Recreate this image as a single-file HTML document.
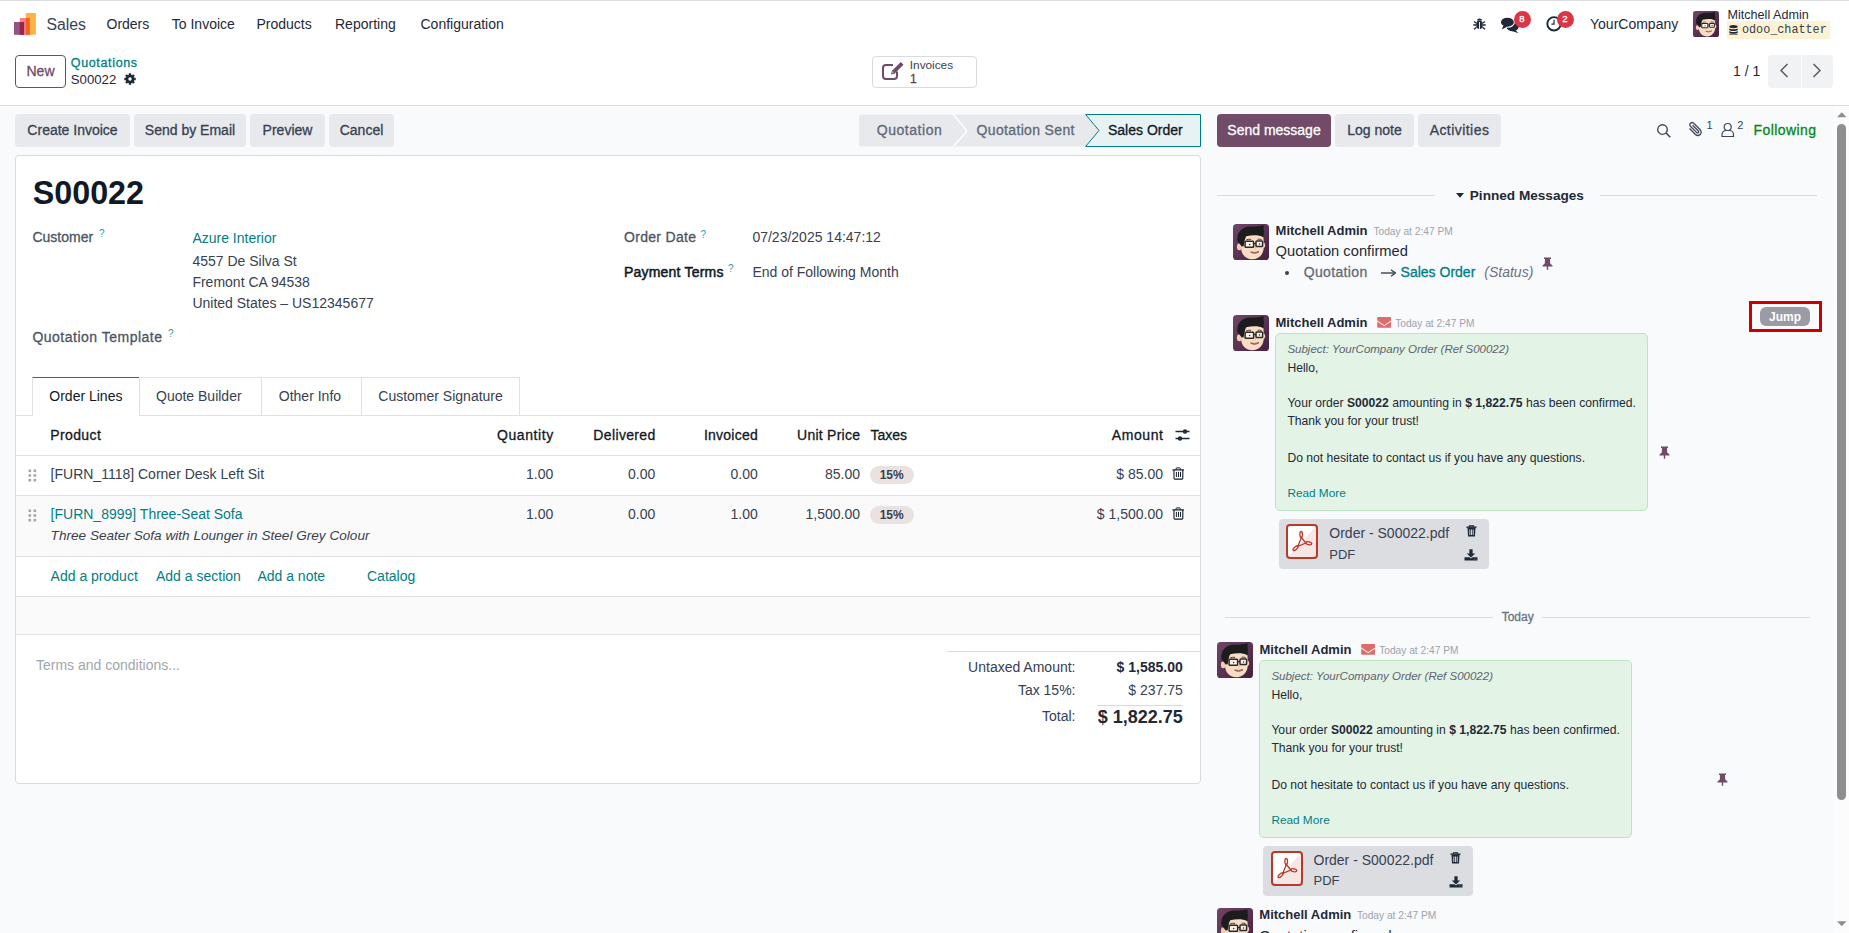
<!DOCTYPE html><html><head><meta charset="utf-8"><style>
*{box-sizing:border-box;margin:0;padding:0}
html,body{width:1849px;height:933px;overflow:hidden;background:#fff}
body{position:relative;font-family:"Liberation Sans",sans-serif;color:#374151;font-size:14px}
.t{position:absolute;line-height:1;white-space:nowrap}
.r{position:absolute;display:block}
.b{font-weight:bold}
.i{font-style:italic}
.teal{color:#017e84}
.dk{color:#111827}
.m{-webkit-text-stroke:0.3px currentColor}
.mono{font-family:"Liberation Mono",monospace}
</style></head><body><div class="r" style="left:0px;top:0px;width:1849px;height:1px;background:#dcdde0"></div>
<svg class="r" style="left:0px;top:0px;" width="40" height="40" viewBox="0 0 40 40">
<rect x="25.75" y="13" width="10.15" height="21.8" rx="1" fill="#f9b444"/>
<rect x="19.8" y="18" width="10" height="16.8" fill="#ff8282"/>
<rect x="25.75" y="18" width="4.05" height="16.8" fill="#f65f26"/>
<rect x="14" y="22" width="10.1" height="12.8" fill="#985184"/>
<rect x="19.8" y="22" width="4.3" height="12.8" fill="#972748"/>
</svg>
<div class="t " style="left:46.5px;top:16.62px;font-size:15.8px;color:#374151">Sales</div>
<div class="t " style="left:106.5px;top:17.15px;font-size:14px;color:#1f2937">Orders</div>
<div class="t " style="left:171.8px;top:17.15px;font-size:14px;color:#1f2937">To Invoice</div>
<div class="t " style="left:256.5px;top:17.15px;font-size:14px;color:#1f2937">Products</div>
<div class="t " style="left:335px;top:17.15px;font-size:14px;color:#1f2937">Reporting</div>
<div class="t " style="left:420.5px;top:17.15px;font-size:14px;color:#1f2937">Configuration</div>
<svg class="r" style="left:1473px;top:17px;" width="13" height="13" viewBox="0 0 13 13"><g fill="#1f2937"><ellipse cx="6.5" cy="7.8" rx="3.3" ry="4.3"/><path d="M4 3.6a2.5 2 0 0 1 5 0z"/>
<path d="M1 4.5l2.5 1.8M12 4.5l-2.5 1.8M0.3 8h3M12.7 8h-3M1 12.3l2.5-2M12 12.3l-2.5-2" stroke="#1f2937" stroke-width="1.4"/></g>
<path d="M6.5 5v7" stroke="#fff" stroke-width="0.9"/></svg>
<svg class="r" style="left:1500px;top:16px;" width="20" height="18" viewBox="0 0 20 18"><g fill="#1f2937"><ellipse cx="12.6" cy="11" rx="6" ry="4.3"/><path d="M15 13.8L18.6 17.2 12 15z"/>
</g>
<ellipse cx="7.4" cy="6.2" rx="7" ry="5.1" fill="#1f2937" stroke="#fff" stroke-width="1.1"/><path d="M3.4 9.4L1.8 13.6 7.5 10.6z" fill="#1f2937"/></svg>
<div class="r" style="left:1513.5px;top:10.5px;width:17px;height:17px;background:#dc3545;border-radius:50%"></div>
<div class="t m" style="left:1222px;width:600px;text-align:center;top:14.46px;font-size:9.5px;color:#fff">8</div>
<svg class="r" style="left:1545px;top:15px;" width="18" height="18" viewBox="0 0 18 18"><circle cx="9" cy="8.8" r="6.7" fill="none" stroke="#1f2937" stroke-width="1.9"/><path d="M9 4.8V9.2H6.4" fill="none" stroke="#1f2937" stroke-width="1.2"/></svg>
<div class="r" style="left:1556.5px;top:10.5px;width:17px;height:17px;background:#dc3545;border-radius:50%"></div>
<div class="t m" style="left:1265px;width:600px;text-align:center;top:14.46px;font-size:9.5px;color:#fff">2</div>
<div class="t " style="left:1590px;top:17.15px;font-size:14px;color:#1f2937">YourCompany</div>
<svg class="r" style="left:1693px;top:11px;" width="26" height="26" viewBox="0 0 36 36"><defs><linearGradient id="avg" x1="0" y1="0" x2="1" y2="1"><stop offset="0" stop-color="#6f4568"/><stop offset="1" stop-color="#46203e"/></linearGradient></defs><rect width="36" height="36" rx="3.6" fill="url(#avg)"/>
<ellipse cx="6.3" cy="22.8" rx="2.4" ry="3.5" fill="#f2cdb0"/>
<ellipse cx="30.6" cy="21.2" rx="1.6" ry="2.6" fill="#f2cdb0"/>
<path d="M8 13.5C8 11.5 11 10.8 19 10.8S30.5 11.6 30.5 14L30.8 23C30.8 30 26 35.3 19.5 35.3S8.5 30.5 8.2 25z" fill="#f8dcc3"/>
<path d="M4.3 17C3.5 8 9.5 2.3 18.5 2.6 23 2.8 26.5 2.3 30.6 1.3 30.9 3 30.2 4.5 30.8 6.2 31.3 9 30.6 11 30.1 13.2 27 11 20 10.6 13.2 12.2L12.2 14.6C11.6 17 11.1 19.6 10.6 22.2L8.6 22.6C7.5 20.2 5.6 19 4.3 17z" fill="#1c1c1f"/>
<path d="M13.2 15.9Q15.6 14.9 18.1 15.4M24.6 15.3Q26.6 14.8 28.6 15.6" fill="none" stroke="#3b2b2b" stroke-width="0.9"/>
<rect x="12.1" y="17.3" width="8.5" height="6" rx="0.8" fill="#fcf3ea" stroke="#2a2a2a" stroke-width="1.5"/>
<rect x="23" y="17.1" width="6.6" height="5.4" rx="0.8" fill="#fcf3ea" stroke="#2a2a2a" stroke-width="1.5"/>
<path d="M20.6 19.6H23" stroke="#2a2a2a" stroke-width="1.2"/>
<circle cx="16.6" cy="20.4" r="0.75" fill="#3a2a2a"/><circle cx="26.5" cy="19.9" r="0.75" fill="#3a2a2a"/>
<path d="M22.2 22.8Q22.9 25 21.7 25.6" fill="none" stroke="#deb096" stroke-width="0.8"/>
<path d="M17.6 28Q21.6 30.9 26 27.6Q21.6 29.1 17.6 28z" fill="#fff" stroke="#7a3d35" stroke-width="0.8"/></svg>
<div class="t " style="left:1727.5px;top:8.83px;font-size:12.6px;color:#1f2937">Mitchell Admin</div>
<div class="r" style="left:1727px;top:21px;width:103px;height:18px;background:#fdf2d3"></div>
<svg class="r" style="left:1729px;top:25px;" width="9" height="10" viewBox="0 0 9 10"><g fill="#1f2937"><ellipse cx="4.5" cy="1.6" rx="4.2" ry="1.6"/><path d="M0.3 3.2c1 1.3 7.4 1.3 8.4 0v1.8c-1 1.3-7.4 1.3-8.4 0z"/><path d="M0.3 6c1 1.3 7.4 1.3 8.4 0v1.8c-1 1.3-7.4 1.3-8.4 0z"/><path d="M0.3 8.6c1 1.3 7.4 1.3 8.4 0v0.6c-1 1.3-7.4 1.3-8.4 0z"/></g></svg>
<div class="t mono" style="left:1741.5px;top:22.99px;font-size:13px;color:#374151;transform:scaleX(0.905);transform-origin:0 0">odoo_chatter</div>
<div class="r" style="left:15px;top:55px;width:51px;height:33px;border:1px solid #714b67;border-radius:4px;background:#fff"></div>
<div class="t m" style="left:-259.5px;width:600px;text-align:center;top:64.15px;font-size:14px;color:#714b67">New</div>
<div class="t m" style="left:70.8px;top:57.22px;font-size:12.5px;color:#017e84;letter-spacing:.65px">Quotations</div>
<div class="t " style="left:70.8px;top:72.62px;font-size:13.2px;color:#1f2937">S00022</div>
<svg class="r" style="left:124px;top:73px;" width="12" height="12" viewBox="0 0 12 12"><g fill="#1f2937"><circle cx="6" cy="6" r="4.3"/>
<g stroke="#1f2937" stroke-width="2.4"><path d="M6 0.3v11.4M0.3 6h11.4M2 2l8 8M10 2l-8 8"/></g></g><circle cx="6" cy="6" r="1.7" fill="#fff"/></svg>
<div class="r" style="left:872px;top:55.5px;width:104.5px;height:32px;border:1px solid #d8dadd;border-radius:4px;background:#fff"></div>
<svg class="r" style="left:882px;top:61px;" width="23" height="19" viewBox="0 0 23 19"><path d="M15 10.5v4.5a3 3 0 0 1-3 3H4a3 3 0 0 1-3-3V7a3 3 0 0 1 3-3h7" fill="none" stroke="#714b67" stroke-width="2"/>
<path d="M9 13.5l0.8-3.5 9-9 2.7 2.7-9 9z" fill="#714b67"/><path d="M10.5 12.2l-0.3-1.6 1.6 0.3z" fill="#fff"/></svg>
<div class="t " style="left:909.8px;top:59.81px;font-size:11.8px;color:#374151">Invoices</div>
<div class="t m" style="left:910px;top:72.54px;font-size:12px;color:#5d3d56">1</div>
<div class="t " style="left:1733px;top:63.85px;font-size:14px;color:#1f2937">1 / 1</div>
<div class="r" style="left:1768px;top:55px;width:32.5px;height:33px;background:#f1f2f4;border-radius:4px 0 0 4px"></div>
<div class="r" style="left:1801.5px;top:55px;width:31.5px;height:33px;background:#f1f2f4;border-radius:0 4px 4px 0"></div>
<svg class="r" style="left:1779px;top:63px;" width="10" height="15" viewBox="0 0 10 15"><path d="M8.5 1L2 7.5 8.5 14" fill="none" stroke="#555" stroke-width="1.4"/></svg>
<svg class="r" style="left:1812px;top:63px;" width="10" height="15" viewBox="0 0 10 15"><path d="M1.5 1L8 7.5 1.5 14" fill="none" stroke="#555" stroke-width="1.4"/></svg>
<div class="r" style="left:0px;top:105px;width:1849px;height:1px;background:#d8dadd"></div>
<div class="r" style="left:0px;top:106px;width:1849px;height:827px;background:#f9fafb"></div>
<div class="r" style="left:1834px;top:106px;width:15px;height:827px;background:#fcfcfd"></div>
<div class="r" style="left:15px;top:114px;width:115px;height:33px;background:#e7e9ed;border-radius:4px"></div>
<div class="t m" style="left:-227.5px;width:600px;text-align:center;top:123.15px;font-size:14px;color:#374151">Create Invoice</div>
<div class="r" style="left:134px;top:114px;width:112px;height:33px;background:#e7e9ed;border-radius:4px"></div>
<div class="t m" style="left:-110.0px;width:600px;text-align:center;top:123.15px;font-size:14px;color:#374151">Send by Email</div>
<div class="r" style="left:250px;top:114px;width:75px;height:33px;background:#e7e9ed;border-radius:4px"></div>
<div class="t m" style="left:-12.5px;width:600px;text-align:center;top:123.15px;font-size:14px;color:#374151">Preview</div>
<div class="r" style="left:329px;top:114px;width:65px;height:33px;background:#e7e9ed;border-radius:4px"></div>
<div class="t m" style="left:61.5px;width:600px;text-align:center;top:123.15px;font-size:14px;color:#374151">Cancel</div>
<svg class="r" style="left:850px;top:110px;" width="360" height="40" viewBox="0 0 360 40">
<path d="M12 4.5H103L117 21 103 36.5H12A3 3 0 0 1 9 33.5V7.5A3 3 0 0 1 12 4.5z" fill="#e7e9ed"/>
<path d="M103 4.5H235.6L249 21 235.6 36.5H103L117 21z" fill="#e7e9ed"/>
<path d="M103 4L117 21 103 37" fill="none" stroke="#fff" stroke-width="1.2"/>
<path d="M235.6 4.5H350.5V36.5H235.6L249 20.5z" fill="#e6f2f3" stroke="#017e84" stroke-width="1"/>
</svg>
<div class="t m" style="left:876.7px;top:123.15px;font-size:14px;color:#5f6877;letter-spacing:.55px">Quotation</div>
<div class="t m" style="left:976.5px;top:123.15px;font-size:14px;color:#5f6877;letter-spacing:.35px">Quotation Sent</div>
<div class="t m" style="left:1108px;top:123.15px;font-size:14px;color:#111827">Sales Order</div>
<div class="r" style="left:15px;top:155px;width:1186px;height:629px;background:#fff;border:1px solid #d8dadd;border-radius:4px"></div>
<div class="t " style="left:32.7px;top:176.65px;font-size:32.3px;color:#111827;font-weight:bold">S00022</div>
<div class="t m" style="left:32.4px;top:229.95px;font-size:14px;color:#4b5563">Customer</div>
<div class="t " style="left:99px;top:229.03px;font-size:10px;color:#2f98a8">?</div>
<div class="t " style="left:192.4px;top:230.55px;font-size:14px;color:#017e84">Azure Interior</div>
<div class="t " style="left:192.4px;top:253.95px;font-size:14px;">4557 De Silva St</div>
<div class="t " style="left:192.4px;top:274.75px;font-size:14px;">Fremont CA 94538</div>
<div class="t " style="left:192.4px;top:295.75px;font-size:14px;">United States – US12345677</div>
<div class="t m" style="left:32.4px;top:329.85px;font-size:14px;color:#4b5563;letter-spacing:.5px">Quotation Template</div>
<div class="t " style="left:168.1px;top:329.03px;font-size:10px;color:#2f98a8">?</div>
<div class="t m" style="left:624px;top:230.35px;font-size:14px;color:#4b5563;letter-spacing:.3px">Order Date</div>
<div class="t " style="left:700.6px;top:229.53px;font-size:10px;color:#2f98a8">?</div>
<div class="t " style="left:752.4px;top:230.35px;font-size:14px;">07/23/2025 14:47:12</div>
<div class="t " style="left:624px;top:264.65px;font-size:14px;color:#111827;letter-spacing:.2px;-webkit-text-stroke:.5px #111827">Payment Terms</div>
<div class="t " style="left:728px;top:263.53px;font-size:10px;color:#2f98a8">?</div>
<div class="t " style="left:752.4px;top:264.65px;font-size:14px;">End of Following Month</div>
<div class="r" style="left:16px;top:414.5px;width:1184px;height:1px;background:#dee2e6"></div>
<div class="r" style="left:32.4px;top:377px;width:107.5px;height:39px;background:#fff;border:1px solid #dee2e6;border-top:1px solid #714b67;border-bottom:none"></div>
<div class="r" style="left:139.3px;top:377px;width:123.2px;height:38px;border:1px solid #dee2e6;border-left:none;border-bottom:none"></div>
<div class="r" style="left:262.5px;top:377px;width:99px;height:38px;border:1px solid #dee2e6;border-left:none;border-bottom:none"></div>
<div class="r" style="left:361.5px;top:377px;width:158.8px;height:38px;border:1px solid #dee2e6;border-left:none;border-bottom:none"></div>
<div class="t " style="left:49.3px;top:389.15px;font-size:14px;color:#111827">Order Lines</div>
<div class="t " style="left:156px;top:389.15px;font-size:14px;">Quote Builder</div>
<div class="t " style="left:278.8px;top:389.15px;font-size:14px;">Other Info</div>
<div class="t " style="left:378.3px;top:389.15px;font-size:14px;">Customer Signature</div>
<div class="t m" style="left:50.2px;top:428.15px;font-size:14px;color:#111827;letter-spacing:.4px">Product</div>
<div class="t m" style="right:1295.1px;top:428.15px;font-size:14px;color:#111827;letter-spacing:0.6px">Quantity</div>
<div class="t m" style="right:1193.35px;top:428.15px;font-size:14px;color:#111827;letter-spacing:0.35px">Delivered</div>
<div class="t m" style="right:1090.95px;top:428.15px;font-size:14px;color:#111827;letter-spacing:0.25px">Invoiced</div>
<div class="t m" style="right:988.75px;top:428.15px;font-size:14px;color:#111827;letter-spacing:0.25px">Unit Price</div>
<div class="t m" style="right:685.4000000000001px;top:428.15px;font-size:14px;color:#111827;letter-spacing:0.6px">Amount</div>
<div class="t m" style="left:870.5px;top:428.15px;font-size:14px;color:#111827">Taxes</div>
<svg class="r" style="left:1175px;top:428px;" width="15" height="14" viewBox="0 0 15 14"><g stroke="#1f2937" stroke-width="1.3"><path d="M0.5 3.5H14.5M0.5 10.5H14.5"/></g><circle cx="10" cy="3.5" r="2.2" fill="#1f2937"/><circle cx="5" cy="10.5" r="2.2" fill="#1f2937"/></svg>
<div class="r" style="left:16px;top:455px;width:1184px;height:1px;background:#dee2e6"></div>
<div class="r" style="left:16px;top:495px;width:1184px;height:1px;background:#dee2e6"></div>
<div class="r" style="left:16px;top:496px;width:1184px;height:60px;background:#fafafa"></div>
<div class="r" style="left:16px;top:556px;width:1184px;height:1px;background:#dee2e6"></div>
<div class="r" style="left:16px;top:596px;width:1184px;height:1px;background:#dee2e6"></div>
<div class="r" style="left:16px;top:597px;width:1184px;height:37px;background:#fafafa"></div>
<div class="r" style="left:16px;top:634px;width:1184px;height:1px;background:#dee2e6"></div>
<svg class="r" style="left:28px;top:469px;" width="9" height="13" viewBox="0 0 9 13"><rect x="0.5" y="0.5" width="2.6" height="2.6" fill="#a3a6ad"/><rect x="0.5" y="5.2" width="2.6" height="2.6" fill="#a3a6ad"/><rect x="0.5" y="9.9" width="2.6" height="2.6" fill="#a3a6ad"/><rect x="5.5" y="0.5" width="2.6" height="2.6" fill="#a3a6ad"/><rect x="5.5" y="5.2" width="2.6" height="2.6" fill="#a3a6ad"/><rect x="5.5" y="9.9" width="2.6" height="2.6" fill="#a3a6ad"/></svg>
<div class="t " style="left:50.6px;top:467.15px;font-size:14px;">[FURN_1118] Corner Desk Left Sit</div>
<div class="t " style="right:1295.7px;top:467.15px;font-size:14px;">1.00</div>
<div class="t " style="right:1193.7px;top:467.15px;font-size:14px;">0.00</div>
<div class="t " style="right:1091.2px;top:467.15px;font-size:14px;">0.00</div>
<div class="t " style="right:989px;top:467.15px;font-size:14px;">85.00</div>
<div class="t " style="right:686px;top:467.15px;font-size:14px;">$ 85.00</div>
<div class="r" style="left:870px;top:466px;width:43.5px;height:17.5px;background:#e9e2e1;border-radius:9px"></div>
<div class="t " style="left:591.7px;width:600px;text-align:center;top:468.84px;font-size:12px;color:#374151;font-weight:bold">15%</div>
<svg class="r" style="left:1172px;top:467px;" width="13" height="13" viewBox="0 0 13 13"><g fill="none" stroke="#111827"><path d="M0.4 2.9H12" stroke-width="1.2"/><path d="M4.1 2.9V1.6Q4.1 0.9 4.8 0.9H7.6Q8.3 0.9 8.3 1.6V2.9" stroke-width="1"/><path d="M2 2.9V11.2Q2 12.1 2.9 12.1H9.9Q10.8 12.1 10.8 11.2V2.9" stroke-width="1.1"/><path d="M4.4 4.9V10M6.5 4.9V10M8.5 4.9V10" stroke-width="0.95"/></g></svg>
<svg class="r" style="left:28px;top:509px;" width="9" height="13" viewBox="0 0 9 13"><rect x="0.5" y="0.5" width="2.6" height="2.6" fill="#a3a6ad"/><rect x="0.5" y="5.2" width="2.6" height="2.6" fill="#a3a6ad"/><rect x="0.5" y="9.9" width="2.6" height="2.6" fill="#a3a6ad"/><rect x="5.5" y="0.5" width="2.6" height="2.6" fill="#a3a6ad"/><rect x="5.5" y="5.2" width="2.6" height="2.6" fill="#a3a6ad"/><rect x="5.5" y="9.9" width="2.6" height="2.6" fill="#a3a6ad"/></svg>
<div class="t " style="left:50.6px;top:507.15px;font-size:14px;color:#017e84">[FURN_8999] Three-Seat Sofa</div>
<div class="t i" style="left:50.6px;top:529.08px;font-size:13.6px;color:#374151">Three Seater Sofa with Lounger in Steel Grey Colour</div>
<div class="t " style="right:1295.7px;top:507.15px;font-size:14px;">1.00</div>
<div class="t " style="right:1193.7px;top:507.15px;font-size:14px;">0.00</div>
<div class="t " style="right:1091.2px;top:507.15px;font-size:14px;">1.00</div>
<div class="t " style="right:989px;top:507.15px;font-size:14px;">1,500.00</div>
<div class="t " style="right:686px;top:507.15px;font-size:14px;">$ 1,500.00</div>
<div class="r" style="left:870px;top:506px;width:43.5px;height:17.5px;background:#e9e2e1;border-radius:9px"></div>
<div class="t " style="left:591.7px;width:600px;text-align:center;top:508.84px;font-size:12px;color:#374151;font-weight:bold">15%</div>
<svg class="r" style="left:1172px;top:507px;" width="13" height="13" viewBox="0 0 13 13"><g fill="none" stroke="#111827"><path d="M0.4 2.9H12" stroke-width="1.2"/><path d="M4.1 2.9V1.6Q4.1 0.9 4.8 0.9H7.6Q8.3 0.9 8.3 1.6V2.9" stroke-width="1"/><path d="M2 2.9V11.2Q2 12.1 2.9 12.1H9.9Q10.8 12.1 10.8 11.2V2.9" stroke-width="1.1"/><path d="M4.4 4.9V10M6.5 4.9V10M8.5 4.9V10" stroke-width="0.95"/></g></svg>
<div class="t " style="left:50.6px;top:569.35px;font-size:14px;color:#017e84">Add a product</div>
<div class="t " style="left:156px;top:569.35px;font-size:14px;color:#017e84">Add a section</div>
<div class="t " style="left:257.4px;top:569.35px;font-size:14px;color:#017e84">Add a note</div>
<div class="t " style="left:367px;top:569.35px;font-size:14px;color:#017e84">Catalog</div>
<div class="t " style="left:36px;top:657.75px;font-size:14px;color:#a1a6ae">Terms and conditions...</div>
<div class="r" style="left:947px;top:651px;width:253px;height:1px;background:#d8dadd"></div>
<div class="t " style="right:773.5px;top:659.85px;font-size:14px;">Untaxed Amount:</div>
<div class="t " style="right:666.3px;top:659.85px;font-size:14px;color:#1f2937;font-weight:bold">$ 1,585.00</div>
<div class="t " style="right:773.5px;top:683.15px;font-size:14px;">Tax 15%:</div>
<div class="t " style="right:666.3px;top:683.15px;font-size:14px;">$ 237.75</div>
<div class="r" style="left:1097px;top:705px;width:86px;height:1px;background:#d8dadd"></div>
<div class="t " style="right:773.5px;top:708.55px;font-size:14px;">Total:</div>
<div class="t " style="right:666.3px;top:707.56px;font-size:18px;color:#1f2937;font-weight:bold">$ 1,822.75</div>
<div class="r" style="left:1217px;top:114px;width:114px;height:33px;background:#714b67;border-radius:4px"></div>
<div class="t m" style="left:974px;width:600px;text-align:center;top:123.15px;font-size:14px;color:#fff">Send message</div>
<div class="r" style="left:1335px;top:114px;width:79px;height:33px;background:#e7e9ed;border-radius:4px"></div>
<div class="t m" style="left:1074.5px;width:600px;text-align:center;top:123.15px;font-size:14px;color:#374151">Log note</div>
<div class="r" style="left:1418px;top:114px;width:83px;height:33px;background:#e7e9ed;border-radius:4px"></div>
<div class="t m" style="left:1159.5px;width:600px;text-align:center;top:123.15px;font-size:14px;color:#374151;letter-spacing:.45px">Activities</div>
<svg class="r" style="left:1656px;top:123px;" width="16" height="15" viewBox="0 0 16 15"><circle cx="6.5" cy="6.5" r="4.8" fill="none" stroke="#3f4756" stroke-width="1.35"/><path d="M10 10L14.3 14.3" stroke="#3f4756" stroke-width="1.6"/></svg>
<svg class="r" style="left:1686px;top:121px;" width="17" height="17" viewBox="0 0 17 17"><g transform="translate(17,0) scale(-1,1)"><path d="M13.5 7.5L7.5 13.5A3.3 3.3 0 0 1 2.8 8.8L9.5 2.1A2.2 2.2 0 0 1 12.6 5.2L6.2 11.6A1.1 1.1 0 0 1 4.6 10L10.4 4.2" fill="none" stroke="#3f4756" stroke-width="1.3"/></g></svg>
<div class="t " style="left:1706.5px;top:120.19px;font-size:11px;color:#374151">1</div>
<svg class="r" style="left:1721px;top:122px;" width="14" height="16" viewBox="0 0 14 16"><circle cx="6.7" cy="5" r="3.5" fill="none" stroke="#3f4756" stroke-width="1.2"/><path d="M1 14.5V12.5A4 4 0 0 1 5 8.5H8.5A4 4 0 0 1 12.5 12.5V14.5z" fill="none" stroke="#3f4756" stroke-width="1.2"/></svg>
<div class="t " style="left:1737.2px;top:120.19px;font-size:11px;color:#374151">2</div>
<div class="t m" style="left:1753.6px;top:123.05px;font-size:14px;color:#008818;letter-spacing:.4px">Following</div>
<div class="r" style="left:1217px;top:195px;width:218px;height:1px;background:#d8dadd"></div>
<svg class="r" style="left:1456px;top:193px;" width="8" height="5" viewBox="0 0 8 5"><path d="M0 0H8L4 4.8z" fill="#1f2937"/></svg>
<div class="t " style="left:1469.8px;top:188.88px;font-size:13.6px;color:#1f2937;font-weight:bold">Pinned Messages</div>
<div class="r" style="left:1600px;top:195px;width:217px;height:1px;background:#d8dadd"></div>
<svg class="r" style="left:1233px;top:224px;" width="36" height="36" viewBox="0 0 36 36"><rect width="36" height="36" rx="3.6" fill="url(#avg)"/>
<ellipse cx="6.3" cy="22.8" rx="2.4" ry="3.5" fill="#f2cdb0"/>
<ellipse cx="30.6" cy="21.2" rx="1.6" ry="2.6" fill="#f2cdb0"/>
<path d="M8 13.5C8 11.5 11 10.8 19 10.8S30.5 11.6 30.5 14L30.8 23C30.8 30 26 35.3 19.5 35.3S8.5 30.5 8.2 25z" fill="#f8dcc3"/>
<path d="M4.3 17C3.5 8 9.5 2.3 18.5 2.6 23 2.8 26.5 2.3 30.6 1.3 30.9 3 30.2 4.5 30.8 6.2 31.3 9 30.6 11 30.1 13.2 27 11 20 10.6 13.2 12.2L12.2 14.6C11.6 17 11.1 19.6 10.6 22.2L8.6 22.6C7.5 20.2 5.6 19 4.3 17z" fill="#1c1c1f"/>
<path d="M13.2 15.9Q15.6 14.9 18.1 15.4M24.6 15.3Q26.6 14.8 28.6 15.6" fill="none" stroke="#3b2b2b" stroke-width="0.9"/>
<rect x="12.1" y="17.3" width="8.5" height="6" rx="0.8" fill="#fcf3ea" stroke="#2a2a2a" stroke-width="1.5"/>
<rect x="23" y="17.1" width="6.6" height="5.4" rx="0.8" fill="#fcf3ea" stroke="#2a2a2a" stroke-width="1.5"/>
<path d="M20.6 19.6H23" stroke="#2a2a2a" stroke-width="1.2"/>
<circle cx="16.6" cy="20.4" r="0.75" fill="#3a2a2a"/><circle cx="26.5" cy="19.9" r="0.75" fill="#3a2a2a"/>
<path d="M22.2 22.8Q22.9 25 21.7 25.6" fill="none" stroke="#deb096" stroke-width="0.8"/>
<path d="M17.6 28Q21.6 30.9 26 27.6Q21.6 29.1 17.6 28z" fill="#fff" stroke="#7a3d35" stroke-width="0.8"/></svg>
<div class="t " style="left:1275.6px;top:224.29px;font-size:13px;color:#1f2937;font-weight:bold">Mitchell Admin</div>
<div class="t " style="left:1373.4px;top:226.66px;font-size:10.2px;color:#9ca3af">Today at 2:47 PM</div>
<div class="t " style="left:1275.6px;top:244.25px;font-size:14.7px;color:#1f2937">Quotation confirmed</div>
<div class="r" style="left:1284.5px;top:271px;width:4px;height:4px;background:#374151;border-radius:50%"></div>
<div class="t m" style="left:1303.7px;top:265.45px;font-size:14px;color:#646b78;letter-spacing:.35px">Quotation</div>
<svg class="r" style="left:1381px;top:269px;" width="15" height="8" viewBox="0 0 15 8"><path d="M0 4H13" stroke="#374151" stroke-width="1.4"/><path d="M10 0.8L14.5 4 10 7.2" fill="none" stroke="#374151" stroke-width="1.4"/></svg>
<div class="t m" style="left:1400.6px;top:265.45px;font-size:14px;color:#017e84">Sales Order</div>
<div class="t i" style="left:1484.3px;top:265.45px;font-size:14px;color:#6b7280">(Status)</div>
<svg class="r" style="left:1541.5px;top:256.5px;" width="11" height="13" viewBox="0 0 11 13"><path d="M2 0.5H9V2H8L8.2 6.5L10.5 8.5V9.5H6.2V12.8H4.8V9.5H0.5V8.5L2.8 6.5L3 2H2z" fill="#714b67"/></svg>
<svg class="r" style="left:1233px;top:315px;" width="36" height="36" viewBox="0 0 36 36"><rect width="36" height="36" rx="3.6" fill="url(#avg)"/>
<ellipse cx="6.3" cy="22.8" rx="2.4" ry="3.5" fill="#f2cdb0"/>
<ellipse cx="30.6" cy="21.2" rx="1.6" ry="2.6" fill="#f2cdb0"/>
<path d="M8 13.5C8 11.5 11 10.8 19 10.8S30.5 11.6 30.5 14L30.8 23C30.8 30 26 35.3 19.5 35.3S8.5 30.5 8.2 25z" fill="#f8dcc3"/>
<path d="M4.3 17C3.5 8 9.5 2.3 18.5 2.6 23 2.8 26.5 2.3 30.6 1.3 30.9 3 30.2 4.5 30.8 6.2 31.3 9 30.6 11 30.1 13.2 27 11 20 10.6 13.2 12.2L12.2 14.6C11.6 17 11.1 19.6 10.6 22.2L8.6 22.6C7.5 20.2 5.6 19 4.3 17z" fill="#1c1c1f"/>
<path d="M13.2 15.9Q15.6 14.9 18.1 15.4M24.6 15.3Q26.6 14.8 28.6 15.6" fill="none" stroke="#3b2b2b" stroke-width="0.9"/>
<rect x="12.1" y="17.3" width="8.5" height="6" rx="0.8" fill="#fcf3ea" stroke="#2a2a2a" stroke-width="1.5"/>
<rect x="23" y="17.1" width="6.6" height="5.4" rx="0.8" fill="#fcf3ea" stroke="#2a2a2a" stroke-width="1.5"/>
<path d="M20.6 19.6H23" stroke="#2a2a2a" stroke-width="1.2"/>
<circle cx="16.6" cy="20.4" r="0.75" fill="#3a2a2a"/><circle cx="26.5" cy="19.9" r="0.75" fill="#3a2a2a"/>
<path d="M22.2 22.8Q22.9 25 21.7 25.6" fill="none" stroke="#deb096" stroke-width="0.8"/>
<path d="M17.6 28Q21.6 30.9 26 27.6Q21.6 29.1 17.6 28z" fill="#fff" stroke="#7a3d35" stroke-width="0.8"/></svg>
<div class="t " style="left:1275.5px;top:315.69px;font-size:13px;color:#1f2937;font-weight:bold">Mitchell Admin</div>
<svg class="r" style="left:1376.6px;top:317.0px;" width="14.5" height="11" viewBox="0 0 14.5 11"><rect x="0.2" y="0" width="14" height="10.8" rx="1" fill="#df6b6b"/><path d="M-0.3 3.6L7.2 8.6L14.7 3.6" fill="none" stroke="#fbf0f0" stroke-width="1.1"/></svg>
<div class="t " style="left:1395.2px;top:318.76px;font-size:10.2px;color:#9ca3af">Today at 2:47 PM</div>
<div class="r" style="left:1275px;top:333.0px;width:373px;height:178.4px;background:#e3f3e6;border:1px solid #bde3c3;border-radius:5px"></div>
<div class="t i" style="left:1287.4px;top:344.06px;font-size:11.5px;color:#5f636f">Subject: YourCompany Order (Ref S00022)</div>
<div class="t " style="left:1287.4px;top:361.61px;font-size:12.15px;color:#1f2937">Hello,</div>
<div class="t " style="left:1287.4px;top:397.31px;font-size:12.15px;color:#1f2937">Your order <b>S00022</b> amounting in <b>$ 1,822.75</b> has been confirmed.</div>
<div class="t " style="left:1287.4px;top:415.31px;font-size:12.15px;color:#1f2937">Thank you for your trust!</div>
<div class="t " style="left:1287.4px;top:451.71px;font-size:12.15px;color:#1f2937">Do not hesitate to contact us if you have any questions.</div>
<div class="t " style="left:1287.4px;top:487.71px;font-size:11.8px;color:#017e84">Read More</div>
<svg class="r" style="left:1658.5px;top:446px;" width="11" height="13" viewBox="0 0 11 13"><path d="M2 0.5H9V2H8L8.2 6.5L10.5 8.5V9.5H6.2V12.8H4.8V9.5H0.5V8.5L2.8 6.5L3 2H2z" fill="#714b67"/></svg>
<div class="r" style="left:1279px;top:519.3px;width:210px;height:49.5px;background:#dcdde1;border-radius:4px"></div>
<svg class="r" style="left:1286.3px;top:524.0px;" width="32" height="35" viewBox="0 0 32 35"><rect x="1" y="1" width="30" height="33" rx="3" fill="#fff"/><path d="M31 1V34H1z" fill="#f6e7e5"/><rect x="1" y="1" width="30" height="33" rx="3" fill="none" stroke="#b83a2a" stroke-width="2"/><g fill="none" stroke="#b83a2a" stroke-width="1.3"><ellipse cx="15.2" cy="10.5" rx="1.3" ry="3"/><ellipse cx="22.8" cy="19.3" rx="3" ry="1.4" transform="rotate(12 22.8 19.3)"/><ellipse cx="9.6" cy="24.2" rx="3.2" ry="1.3" transform="rotate(-42 9.6 24.2)"/><path d="M15.4 13.5L19.8 19 11.8 22.3z"/></g></svg>
<div class="t " style="left:1329.3px;top:526.15px;font-size:14px;color:#374151">Order - S00022.pdf</div>
<div class="t " style="left:1329.3px;top:547.59px;font-size:13px;color:#374151">PDF</div>
<svg class="r" style="left:1465.6px;top:525.3px;" width="11" height="12" viewBox="0 0 11 12"><path d="M0.5 2.2H10.5" stroke="#1f2937" stroke-width="1.4"/><path d="M3.5 2V0.8H7.5V2" fill="none" stroke="#1f2937" stroke-width="1.2"/><path d="M1.5 3H9.5L9 11.5H2z" fill="#1f2937"/><path d="M3.8 4.5V10M5.5 4.5V10M7.2 4.5V10" stroke="#fff" stroke-width="0.8"/></svg>
<svg class="r" style="left:1464.4px;top:549.0px;" width="14" height="12" viewBox="0 0 14 12"><path d="M5.4 0.3H8.6V4.4H11.2L7 8.6 2.8 4.4H5.4z" fill="#1f2937"/><path d="M0.5 8.2H5.6L7 9.6 8.4 8.2H13.5V11.6H0.5z" fill="#1f2937"/><circle cx="10.3" cy="10" r=".45" fill="#9aa"/><circle cx="12" cy="10" r=".45" fill="#9aa"/></svg>
<div class="r" style="left:1749px;top:301px;width:73px;height:31px;border:3px solid #cc0000"></div>
<div class="r" style="left:1760px;top:307px;width:50px;height:19px;background:#9a9ca5;border-radius:6px"></div>
<div class="t " style="left:1485px;width:600px;text-align:center;top:310.54px;font-size:12px;color:#fff;font-weight:bold">Jump</div>
<div class="r" style="left:1225px;top:617px;width:268px;height:1px;background:#d8dadd"></div>
<div class="t m" style="left:1501.7px;top:611.04px;font-size:12px;color:#6b7280">Today</div>
<div class="r" style="left:1542px;top:617px;width:268px;height:1px;background:#d8dadd"></div>
<svg class="r" style="left:1217px;top:642px;" width="36" height="36" viewBox="0 0 36 36"><rect width="36" height="36" rx="3.6" fill="url(#avg)"/>
<ellipse cx="6.3" cy="22.8" rx="2.4" ry="3.5" fill="#f2cdb0"/>
<ellipse cx="30.6" cy="21.2" rx="1.6" ry="2.6" fill="#f2cdb0"/>
<path d="M8 13.5C8 11.5 11 10.8 19 10.8S30.5 11.6 30.5 14L30.8 23C30.8 30 26 35.3 19.5 35.3S8.5 30.5 8.2 25z" fill="#f8dcc3"/>
<path d="M4.3 17C3.5 8 9.5 2.3 18.5 2.6 23 2.8 26.5 2.3 30.6 1.3 30.9 3 30.2 4.5 30.8 6.2 31.3 9 30.6 11 30.1 13.2 27 11 20 10.6 13.2 12.2L12.2 14.6C11.6 17 11.1 19.6 10.6 22.2L8.6 22.6C7.5 20.2 5.6 19 4.3 17z" fill="#1c1c1f"/>
<path d="M13.2 15.9Q15.6 14.9 18.1 15.4M24.6 15.3Q26.6 14.8 28.6 15.6" fill="none" stroke="#3b2b2b" stroke-width="0.9"/>
<rect x="12.1" y="17.3" width="8.5" height="6" rx="0.8" fill="#fcf3ea" stroke="#2a2a2a" stroke-width="1.5"/>
<rect x="23" y="17.1" width="6.6" height="5.4" rx="0.8" fill="#fcf3ea" stroke="#2a2a2a" stroke-width="1.5"/>
<path d="M20.6 19.6H23" stroke="#2a2a2a" stroke-width="1.2"/>
<circle cx="16.6" cy="20.4" r="0.75" fill="#3a2a2a"/><circle cx="26.5" cy="19.9" r="0.75" fill="#3a2a2a"/>
<path d="M22.2 22.8Q22.9 25 21.7 25.6" fill="none" stroke="#deb096" stroke-width="0.8"/>
<path d="M17.6 28Q21.6 30.9 26 27.6Q21.6 29.1 17.6 28z" fill="#fff" stroke="#7a3d35" stroke-width="0.8"/></svg>
<div class="t " style="left:1259.5px;top:642.79px;font-size:13px;color:#1f2937;font-weight:bold">Mitchell Admin</div>
<svg class="r" style="left:1360.6px;top:644.0999999999999px;" width="14.5" height="11" viewBox="0 0 14.5 11"><rect x="0.2" y="0" width="14" height="10.8" rx="1" fill="#df6b6b"/><path d="M-0.3 3.6L7.2 8.6L14.7 3.6" fill="none" stroke="#fbf0f0" stroke-width="1.1"/></svg>
<div class="t " style="left:1379.2px;top:645.86px;font-size:10.2px;color:#9ca3af">Today at 2:47 PM</div>
<div class="r" style="left:1259px;top:660.0999999999999px;width:373px;height:178.4px;background:#e3f3e6;border:1px solid #bde3c3;border-radius:5px"></div>
<div class="t i" style="left:1271.4px;top:671.16px;font-size:11.5px;color:#5f636f">Subject: YourCompany Order (Ref S00022)</div>
<div class="t " style="left:1271.4px;top:688.71px;font-size:12.15px;color:#1f2937">Hello,</div>
<div class="t " style="left:1271.4px;top:724.41px;font-size:12.15px;color:#1f2937">Your order <b>S00022</b> amounting in <b>$ 1,822.75</b> has been confirmed.</div>
<div class="t " style="left:1271.4px;top:742.41px;font-size:12.15px;color:#1f2937">Thank you for your trust!</div>
<div class="t " style="left:1271.4px;top:778.81px;font-size:12.15px;color:#1f2937">Do not hesitate to contact us if you have any questions.</div>
<div class="t " style="left:1271.4px;top:814.81px;font-size:11.8px;color:#017e84">Read More</div>
<svg class="r" style="left:1716.5px;top:773px;" width="11" height="13" viewBox="0 0 11 13"><path d="M2 0.5H9V2H8L8.2 6.5L10.5 8.5V9.5H6.2V12.8H4.8V9.5H0.5V8.5L2.8 6.5L3 2H2z" fill="#714b67"/></svg>
<div class="r" style="left:1263.2px;top:846.2px;width:210px;height:49.5px;background:#dcdde1;border-radius:4px"></div>
<svg class="r" style="left:1270.5px;top:850.9000000000001px;" width="32" height="35" viewBox="0 0 32 35"><rect x="1" y="1" width="30" height="33" rx="3" fill="#fff"/><path d="M31 1V34H1z" fill="#f6e7e5"/><rect x="1" y="1" width="30" height="33" rx="3" fill="none" stroke="#b83a2a" stroke-width="2"/><g fill="none" stroke="#b83a2a" stroke-width="1.3"><ellipse cx="15.2" cy="10.5" rx="1.3" ry="3"/><ellipse cx="22.8" cy="19.3" rx="3" ry="1.4" transform="rotate(12 22.8 19.3)"/><ellipse cx="9.6" cy="24.2" rx="3.2" ry="1.3" transform="rotate(-42 9.6 24.2)"/><path d="M15.4 13.5L19.8 19 11.8 22.3z"/></g></svg>
<div class="t " style="left:1313.5px;top:853.05px;font-size:14px;color:#374151">Order - S00022.pdf</div>
<div class="t " style="left:1313.5px;top:874.49px;font-size:13px;color:#374151">PDF</div>
<svg class="r" style="left:1449.8px;top:852.2px;" width="11" height="12" viewBox="0 0 11 12"><path d="M0.5 2.2H10.5" stroke="#1f2937" stroke-width="1.4"/><path d="M3.5 2V0.8H7.5V2" fill="none" stroke="#1f2937" stroke-width="1.2"/><path d="M1.5 3H9.5L9 11.5H2z" fill="#1f2937"/><path d="M3.8 4.5V10M5.5 4.5V10M7.2 4.5V10" stroke="#fff" stroke-width="0.8"/></svg>
<svg class="r" style="left:1448.6000000000001px;top:875.9000000000001px;" width="14" height="12" viewBox="0 0 14 12"><path d="M5.4 0.3H8.6V4.4H11.2L7 8.6 2.8 4.4H5.4z" fill="#1f2937"/><path d="M0.5 8.2H5.6L7 9.6 8.4 8.2H13.5V11.6H0.5z" fill="#1f2937"/><circle cx="10.3" cy="10" r=".45" fill="#9aa"/><circle cx="12" cy="10" r=".45" fill="#9aa"/></svg>
<svg class="r" style="left:1217px;top:908px;" width="36" height="36" viewBox="0 0 36 36"><rect width="36" height="36" rx="3.6" fill="url(#avg)"/>
<ellipse cx="6.3" cy="22.8" rx="2.4" ry="3.5" fill="#f2cdb0"/>
<ellipse cx="30.6" cy="21.2" rx="1.6" ry="2.6" fill="#f2cdb0"/>
<path d="M8 13.5C8 11.5 11 10.8 19 10.8S30.5 11.6 30.5 14L30.8 23C30.8 30 26 35.3 19.5 35.3S8.5 30.5 8.2 25z" fill="#f8dcc3"/>
<path d="M4.3 17C3.5 8 9.5 2.3 18.5 2.6 23 2.8 26.5 2.3 30.6 1.3 30.9 3 30.2 4.5 30.8 6.2 31.3 9 30.6 11 30.1 13.2 27 11 20 10.6 13.2 12.2L12.2 14.6C11.6 17 11.1 19.6 10.6 22.2L8.6 22.6C7.5 20.2 5.6 19 4.3 17z" fill="#1c1c1f"/>
<path d="M13.2 15.9Q15.6 14.9 18.1 15.4M24.6 15.3Q26.6 14.8 28.6 15.6" fill="none" stroke="#3b2b2b" stroke-width="0.9"/>
<rect x="12.1" y="17.3" width="8.5" height="6" rx="0.8" fill="#fcf3ea" stroke="#2a2a2a" stroke-width="1.5"/>
<rect x="23" y="17.1" width="6.6" height="5.4" rx="0.8" fill="#fcf3ea" stroke="#2a2a2a" stroke-width="1.5"/>
<path d="M20.6 19.6H23" stroke="#2a2a2a" stroke-width="1.2"/>
<circle cx="16.6" cy="20.4" r="0.75" fill="#3a2a2a"/><circle cx="26.5" cy="19.9" r="0.75" fill="#3a2a2a"/>
<path d="M22.2 22.8Q22.9 25 21.7 25.6" fill="none" stroke="#deb096" stroke-width="0.8"/>
<path d="M17.6 28Q21.6 30.9 26 27.6Q21.6 29.1 17.6 28z" fill="#fff" stroke="#7a3d35" stroke-width="0.8"/></svg>
<div class="t " style="left:1259.3px;top:908.19px;font-size:13px;color:#1f2937;font-weight:bold">Mitchell Admin</div>
<div class="t " style="left:1356.9px;top:910.56px;font-size:10.2px;color:#9ca3af">Today at 2:47 PM</div>
<div class="t " style="left:1259.3px;top:928.55px;font-size:14.7px;color:#1f2937">Quotation confirmed</div>
<div class="r" style="left:1837px;top:124px;width:9px;height:676px;background:#8e8e8e;border-radius:4.5px"></div>
<svg class="r" style="left:1836.5px;top:112px;" width="10" height="6" viewBox="0 0 10 6"><path d="M0 5.2H9.5L4.75 0.2z" fill="#8e8e8e"/></svg>
<svg class="r" style="left:1836.5px;top:921px;" width="10" height="6" viewBox="0 0 10 6"><path d="M0 0.2H9.5L4.75 5.2z" fill="#8e8e8e"/></svg></body></html>
